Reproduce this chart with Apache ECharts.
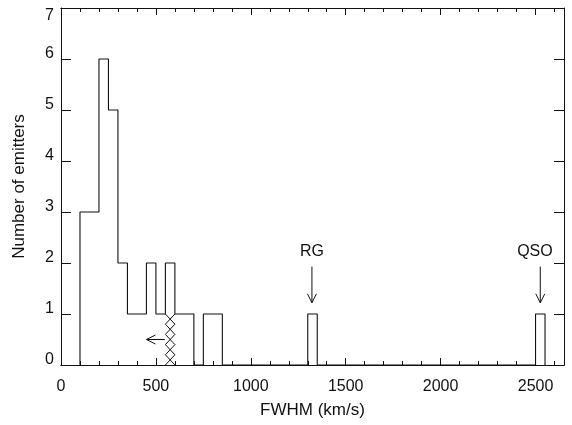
<!DOCTYPE html>
<html><head><meta charset="utf-8">
<script src="https://cdn.jsdelivr.net/npm/echarts@6/dist/echarts.min.js"></script>
<style>html,body{margin:0;padding:0;background:#fff}#c{width:572px;height:425px}</style>
</head><body><div id="c"></div>
<script>
// Histogram bins (left edges, 50 km/s wide) and counts
const binWidth = 50;
const binLefts = [100,150,200,250,300,350,400,450,500,550,600,650,700,750,800,
  850,900,950,1000,1050,1100,1150,1200,1250,1300,
  1350,1400,1450,1500,1550,1600,1650,1700,1750,1800,1850,1900,1950,2000,2050,2100,2150,2200,2250,2300,2350,2400,2450,2500];
const counts   = [3,3,6,5,2,1,1,2,1,2,1,1,0,1,1,
  0,0,0,0,0,0,0,0,0,1,
  0,0,0,0,0,0,0,0,0,0,0,0,0,0,0,0,0,0,0,0,0,0,0,1];
// Hatched upper-limit bin: [from, to, height]
const hatchBins = [[550, 600, 1]];
// Arrows: [xTail, yTail, xHead, yHead]
const arrows = [[547, 0.5, 450, 0.5], [1322, 1.93, 1322, 1.22], [2525, 1.93, 2525, 1.22]];
// Annotation labels: [x, y, text]
const labels = [[1322, 2.23, 'RG'], [2497, 2.23, 'QSO']];
const xTicks = [0, 500, 1000, 1500, 2000, 2500];
const yTicks = [0, 1, 2, 3, 4, 5, 6, 7];

const stepData = [[binLefts[0], 0]];
binLefts.forEach((x, i) => stepData.push([x, counts[i]]));
stepData.push([binLefts[binLefts.length - 1] + binWidth, 0]);

const FONT = 'Liberation Sans, Arial, Helvetica, sans-serif';
const INK = '#111';
const lineStyle = { color: INK, width: 1 };

function xAxisDef(pos, major) {
  return {
    type: 'value', position: pos, min: 0, max: 2650,
    interval: major ? 500 : 100,
    axisLine: { show: true, onZero: false, lineStyle },
    axisTick: { show: true, inside: true, length: major ? 7 : 4, lineStyle },
    axisLabel: {
      show: major && pos === 'bottom', margin: 14, fontFamily: FONT, fontSize: 16, color: INK,
      showMaxLabel: false,
      formatter: v => (xTicks.indexOf(v) >= 0 ? String(v) : '')
    },
    splitLine: { show: false },
    name: (major && pos === 'bottom') ? 'FWHM (km/s)' : '',
    nameLocation: 'middle', nameGap: 37,
    nameTextStyle: { fontFamily: FONT, fontSize: 17, color: INK }
  };
}
function yAxisDef(pos) {
  return {
    type: 'value', position: pos, min: 0, max: 7, interval: 1,
    axisLine: { show: true, onZero: false, lineStyle },
    axisTick: { show: true, inside: true, length: 10, lineStyle },
    axisLabel: {
      show: pos === 'left', margin: 7, fontFamily: FONT, fontSize: 16, color: INK,
      formatter: v => {
        if (yTicks.indexOf(v) < 0) return '';
        return v === yTicks[yTicks.length - 1] ? '{t|' + v + '}' : '{b|' + v + '}';
      },
      rich: {
        t: { fontFamily: FONT, fontSize: 16, color: INK, padding: [16, 0, 0, 0] },
        b: { fontFamily: FONT, fontSize: 16, color: INK, padding: [0, 0, 11, 0] }
      }
    },
    splitLine: { show: false },
    name: pos === 'left' ? 'Number of emitters' : '',
    nameLocation: 'middle', nameGap: 33,
    nameTextStyle: { fontFamily: FONT, fontSize: 17, color: INK }
  };
}

const chart = echarts.init(document.getElementById('c'), null, { renderer: 'canvas' });
chart.setOption({
  animation: false,
  backgroundColor: '#fff',
  grid: { left: 61, top: 8, width: 503, height: 357, containLabel: false },
  xAxis: [xAxisDef('bottom', true), xAxisDef('bottom', false), xAxisDef('top', true), xAxisDef('top', false)],
  yAxis: [yAxisDef('left'), yAxisDef('right')],
  series: [
    {
      type: 'line', step: 'end', data: stepData, symbol: 'none',
      lineStyle: { color: INK, width: 1.1 }, xAxisIndex: 0, yAxisIndex: 0, z: 3
    },
    {
      type: 'custom', xAxisIndex: 0, yAxisIndex: 0, data: hatchBins, z: 4,
      renderItem(params, api) {
        const p0 = api.coord([api.value(0), 0]);
        const p1 = api.coord([api.value(1), api.value(2)]);
        const L = p0[0], R = p1[0], yb = p0[1], yt = p1[1];
        const n = 5, s = (yb - yt) / n;
        const a = [], b = [];
        for (let k = 0; k <= n; k++) {
          const y = yt + k * s;
          a.push([k % 2 === 0 ? L : R, y]);
          b.push([k % 2 === 0 ? R : L, y]);
        }
        const st = { stroke: INK, lineWidth: 1, fill: null };
        return { type: 'group', children: [
          { type: 'polyline', shape: { points: a }, style: st },
          { type: 'polyline', shape: { points: b }, style: st }
        ]};
      }
    },
    {
      type: 'custom', xAxisIndex: 0, yAxisIndex: 0, data: arrows, z: 5,
      renderItem(params, api) {
        const t = api.coord([api.value(0), api.value(1)]);
        const h = api.coord([api.value(2), api.value(3)]);
        const dx = h[0] - t[0], dy = h[1] - t[1];
        const len = Math.sqrt(dx * dx + dy * dy);
        const ux = dx / len, uy = dy / len;
        const hl = 9, hw = 4.5;
        const bx = h[0] - ux * hl, by = h[1] - uy * hl;
        const st = { stroke: INK, lineWidth: 1, fill: null };
        return { type: 'group', children: [
          { type: 'line', shape: { x1: t[0], y1: t[1], x2: h[0], y2: h[1] }, style: st },
          { type: 'polyline', shape: { points: [[bx - uy * hw, by + ux * hw], [h[0], h[1]], [bx + uy * hw, by - ux * hw]] }, style: st }
        ]};
      }
    },
    {
      type: 'custom', xAxisIndex: 0, yAxisIndex: 0, data: labels, z: 5,
      dimensions: ['x', 'y', 'text'],
      renderItem(params, api) {
        const p = api.coord([api.value(0), api.value(1)]);
        return { type: 'text', x: p[0], y: p[1], style: {
          text: labels[params.dataIndex][2], fill: INK, fontFamily: FONT, fontSize: 16,
          align: 'center', verticalAlign: 'middle'
        }};
      }
    }
  ]
});
</script>
</body></html>
